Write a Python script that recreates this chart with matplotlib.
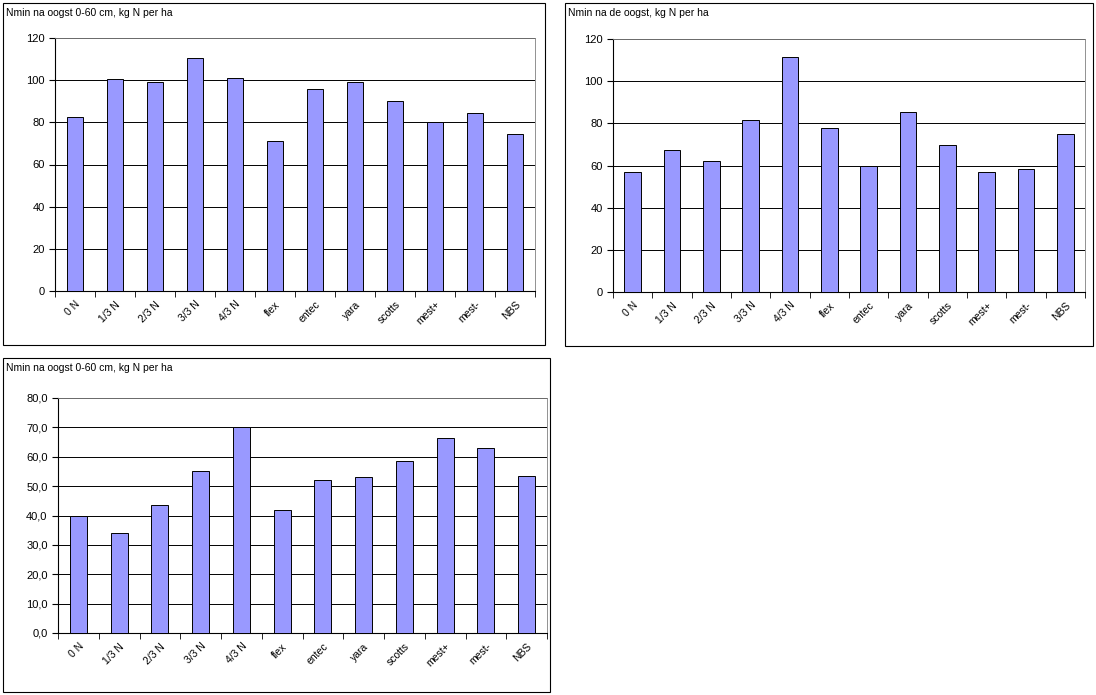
import matplotlib
matplotlib.use("Agg")
import matplotlib.pyplot as plt
from matplotlib.patches import Rectangle

plt.rcParams['font.family'] = ['Liberation Sans', 'DejaVu Sans']

cats = ["0 N", "1/3 N", "2/3 N", "3/3 N", "4/3 N", "flex", "entec", "yara", "scotts", "mest+", "mest-", "NBS"]
v1 = [82.5, 100.6, 99, 110.5, 101, 71, 96, 99, 90, 80, 84.5, 74.5]
v2 = [57, 67.5, 62, 81.5, 111.5, 78, 60, 85.5, 69.5, 57, 58.5, 75]
v3 = [40, 34, 43.5, 55, 70, 42, 52, 53, 58.5, 66.5, 63, 53.5]
titles = ["Nmin na oogst 0-60 cm, kg N per ha", "Nmin na de oogst, kg N per ha", "Nmin na oogst 0-60 cm, kg N per ha"]

W, H = 1096, 695
fig = plt.figure(figsize=(W/100, H/100), dpi=100)

def px(x0, y0, x1, y1):
    return [x0/W, 1-y1/H, (x1-x0)/W, (y1-y0)/H]

panels = [
    ((3, 3, 545, 345), (55, 38, 535, 291), v1, titles[0], 120, 20, "{:.0f}"),
    ((565, 3, 1093, 346), (613, 39, 1085, 292), v2, titles[1], 120, 20, "{:.0f}"),
    ((3, 358, 550, 692), (58, 398, 547, 633), v3, titles[2], 80, 10, "{:.1f}"),
]
for box, area, vals, title, ymax, step, fmt in panels:
    fig.patches.append(Rectangle((box[0]/W, 1-box[3]/H), (box[2]-box[0])/W, (box[3]-box[1])/H,
                                 transform=fig.transFigure, fill=False, edgecolor="black", lw=0.8))
    fig.text((box[0]+3)/W, 1-(box[1]+10)/H, title, fontsize=7.5, va="center", ha="left")
    ax = fig.add_axes(px(*area))
    x = range(len(cats))
    ax.bar(x, vals, width=0.42, color="#9999FF", edgecolor="black", lw=0.7, zorder=3)
    ax.set_xlim(-0.5, len(cats)-0.5)
    ax.set_ylim(0, ymax)
    yt = list(range(0, ymax+1, step))
    ax.set_yticks(yt)
    ax.set_yticklabels([fmt.format(t).replace(".", ",") for t in yt], fontsize=8)
    ax.yaxis.grid(True, color="black", lw=0.7, zorder=0)
    ax.set_xticks(list(x))
    ax.set_xticklabels(cats, rotation=45, ha="right", rotation_mode="anchor", fontsize=7.5)
    ax.tick_params(axis="x", length=0, pad=6)
    ax.set_xticks([i+0.5 for i in range(-1, len(cats))], minor=True)
    ax.tick_params(axis="x", which="minor", length=4, direction="out")
    ax.tick_params(axis="y", length=4, direction="out")
    for s in ["top", "right"]:
        ax.spines[s].set_color("#808080")
        ax.spines[s].set_linewidth(0.6)

fig.savefig("out.png", dpi=100)
